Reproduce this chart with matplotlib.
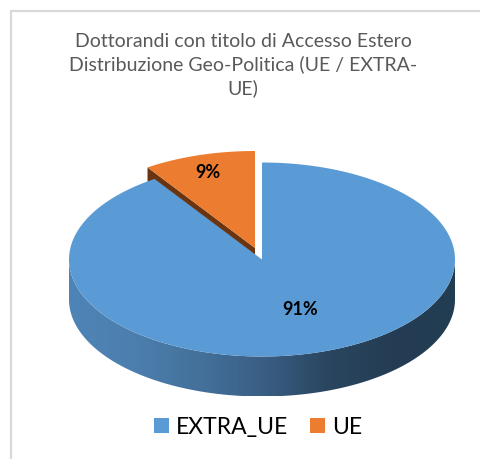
import matplotlib.pyplot as plt
import numpy as np
from matplotlib.colors import LinearSegmentedColormap
from matplotlib.patches import Polygon, Rectangle

labels = ['EXTRA_UE', 'UE']
values = [90.6, 9.4]
colors = ['#5B9BD5', '#EC7C30']
title = 'Dottorandi con titolo di Accesso Estero\nDistribuzione Geo-Politica (UE / EXTRA-\nUE)'

plt.rcParams['font.family'] = ['Lato', 'DejaVu Sans']

# pie geometry in pixels of the picture
cx, cy = 262, 260.5
rx, ry = 193, 97
depth = 40
shift_x, shift_y = -7, -11.5


def ellipse_pts(a0, a1, n=300):
    # angles clockwise from 12 o'clock, in fractions of the pie
    t = np.linspace(a0, a1, n) * 2 * np.pi
    return np.column_stack([cx + rx * np.sin(t), cy - ry * np.cos(t)])


fig = plt.figure(figsize=(4.81, 4.6), dpi=100)
ax = fig.add_axes([0, 0, 1, 1])
ax.set_xlim(0, 481)
ax.set_ylim(460, 0)
ax.axis('off')

# chart frame
ax.plot([11, 11, 481], [460, 11.5, 11.5], color='#D9D9D9', lw=1.6, zorder=1)

fracs = np.array(values) / sum(values)
blue_end = fracs[0]

# orange slice pulled out of the pie, with its dark cut face
arc = ellipse_pts(blue_end, 1) + [shift_x, shift_y]
apex = np.array([cx + shift_x, cy + shift_y])
side = np.array([arc[0], arc[0] + [0, depth], apex + [0, depth], apex])
ax.add_patch(Polygon(side, closed=True, fc='#6B3410', ec='none', zorder=2))
ax.add_patch(Polygon(np.vstack([apex, arc]), closed=True, fc=colors[1], ec='none', zorder=3))

# blue wall with horizontal shading
wall_arc = ellipse_pts(0.25, 0.75)
wall = np.vstack([wall_arc, wall_arc[::-1] + [0, depth]])
wall_cmap = LinearSegmentedColormap.from_list(
    'wall', ['#223C52', '#243D54', '#2A4660', '#3A5F85', '#44719B', '#4C7FAE', '#4E84B6'])
grad = np.linspace(0, 1, 400).reshape(1, -1)
im = ax.imshow(grad, extent=[cx + rx, cx - rx, cy + ry + depth, cy], cmap=wall_cmap,
               aspect='auto', zorder=4)
im.set_clip_path(Polygon(wall, closed=True, transform=ax.transData))
ax.set_xlim(0, 481)
ax.set_ylim(460, 0)

# blue top
top = np.vstack([[cx, cy], ellipse_pts(0, blue_end)])
ax.add_patch(Polygon(top, closed=True, fc=colors[0], ec='none', zorder=5))

# value labels
ax.text(300, 310, f'{values[0]:.0f}%', fontsize=13, fontweight='bold', color='black',
        ha='center', va='center', zorder=6)
ax.text(208, 173, f'{values[1]:.0f}%', fontsize=13, fontweight='bold', color='black',
        ha='center', va='center', zorder=6)

ax.text(243, 65, title, fontsize=14, color='#595959', ha='center', va='center',
        linespacing=1.39, zorder=6)

# legend
ax.add_patch(Rectangle((154, 419), 15, 15, fc=colors[0], ec='none', zorder=6))
ax.text(176, 428, labels[0], fontsize=16.5, color='black', ha='left', va='center', zorder=6)
ax.add_patch(Rectangle((310, 419), 15, 15, fc=colors[1], ec='none', zorder=6))
ax.text(332, 428, labels[1], fontsize=16.5, color='black', ha='left', va='center', zorder=6)

fig.savefig('out.png', dpi=100)
